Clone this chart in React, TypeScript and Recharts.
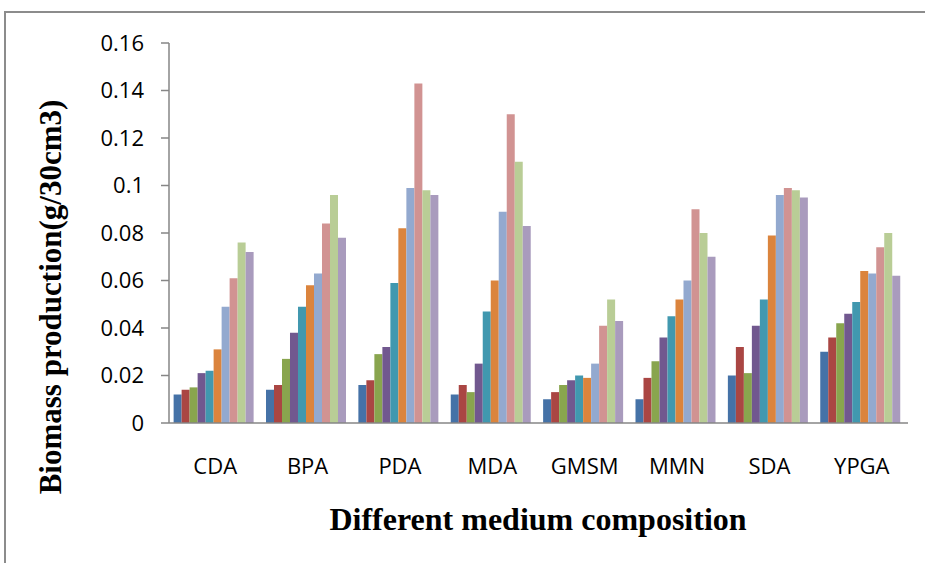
import { BarChart, Bar, XAxis, YAxis, Label } from 'recharts';

// Biomass production per medium, ten grouped series (no legend in the source)
const mediums = ['CDA', 'BPA', 'PDA', 'MDA', 'GMSM', 'MMN', 'SDA', 'YPGA'];
const yTicks = [0, 0.02, 0.04, 0.06, 0.08, 0.1, 0.12, 0.14, 0.16];

const s1 = [0.012, 0.014, 0.016, 0.012, 0.010, 0.010, 0.020, 0.030];
const s2 = [0.014, 0.016, 0.018, 0.016, 0.013, 0.019, 0.032, 0.036];
const s3 = [0.015, 0.027, 0.029, 0.013, 0.016, 0.026, 0.021, 0.042];
const s4 = [0.021, 0.038, 0.032, 0.025, 0.018, 0.036, 0.041, 0.046];
const s5 = [0.022, 0.049, 0.059, 0.047, 0.020, 0.045, 0.052, 0.051];
const s6 = [0.031, 0.058, 0.082, 0.060, 0.019, 0.052, 0.079, 0.064];
const s7 = [0.049, 0.063, 0.099, 0.089, 0.025, 0.060, 0.096, 0.063];
const s8 = [0.061, 0.084, 0.143, 0.130, 0.041, 0.090, 0.099, 0.074];
const s9 = [0.076, 0.096, 0.098, 0.110, 0.052, 0.080, 0.098, 0.080];
const s10 = [0.072, 0.078, 0.096, 0.083, 0.043, 0.070, 0.095, 0.062];

const seriesValues = [s1, s2, s3, s4, s5, s6, s7, s8, s9, s10];
const seriesNames = seriesValues.map((_, i) => `Series ${i + 1}`);
// Excel 2007 style palette
const colors = [
  '#4572A7', '#AA4643', '#89A54E', '#71588F', '#4198AF',
  '#DB843D', '#93A9CF', '#D19392', '#B9CD96', '#A99BBD',
];

const data = mediums.map((m, i) => {
  const row: Record<string, string | number> = { medium: m };
  seriesNames.forEach((n, k) => {
    row[n] = seriesValues[k][i];
  });
  return row;
});

const axisGray = '#868686';
const tickFont = { fontFamily: '"Open Sans", sans-serif', fontSize: 22, fill: '#000' };
const titleFont = '"Liberation Serif", "Times New Roman", serif';

export default function App() {
  return (
    <div style={{ position: 'relative', width: 925, height: 563, background: '#fff', overflow: 'hidden' }}>
      <style>{'body{margin:0}'}</style>
      <div
        style={{
          position: 'absolute',
          left: 4,
          top: 11,
          width: 1000,
          height: 1000,
          borderLeft: '2px solid #8c8c8c',
          borderTop: '2px solid #8c8c8c',
        }}
      />
      <BarChart
        width={925}
        height={563}
        data={data}
        margin={{ top: 43, right: 17, bottom: 0, left: 0 }}
        barCategoryGap="5%"
        barGap={0}
        style={{ position: 'absolute', left: 0, top: 0 }}
      >
        <XAxis
          dataKey="medium"
          height={140}
          stroke={axisGray}
          strokeWidth={1.5}
          tickLine={false}
          tickSize={0}
          tickMargin={35}
          tick={tickFont}
        >
          <Label
            content={() => (
              <text
                x={538}
                y={530}
                textAnchor="middle"
                style={{ fontFamily: titleFont, fontWeight: 'bold', fontSize: 32 }}
              >
                Different medium composition
              </text>
            )}
          />
        </XAxis>
        <YAxis
          width={169}
          domain={[0, 0.16]}
          ticks={yTicks}
          interval={0}
          stroke={axisGray}
          strokeWidth={1.5}
          tickSize={8}
          tickMargin={17}
          tick={tickFont}
        >
          <Label
            content={() => (
              <text
                x={61}
                y={297}
                textAnchor="middle"
                transform="rotate(-90 61 297)"
                style={{ fontFamily: titleFont, fontWeight: 'bold', fontSize: 31 }}
              >
                Biomass production(g/30cm3)
              </text>
            )}
          />
        </YAxis>
        {seriesNames.map((n, k) => (
          <Bar key={n} dataKey={n} fill={colors[k]} isAnimationActive={false} />
        ))}
      </BarChart>
    </div>
  );
}
